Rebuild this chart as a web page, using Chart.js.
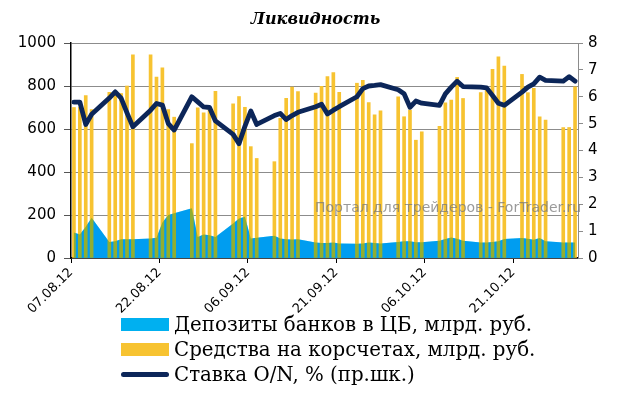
<!DOCTYPE html>
<html lang="ru">
<head>
    <meta charset="UTF-8">
    <title>Ликвидность</title>
    <style>
        html, body {
            margin: 0;
            padding: 0;
            background: #fff;
        }

        .wrap {
            position: relative;
            width: 631px;
            height: 393px;
        }

        #legend {
            position: absolute;
            left: 121px;
            top: 312px;
            font-family: "DejaVu Serif", serif;
            font-size: 19.8px;
            color: #000;
        }

        .row {
            display: flex;
            align-items: center;
            height: 25px;
            white-space: nowrap;
        }

        .swatch {
            width: 48px;
            height: 13px;
            margin-right: 5px;
            flex: none;
        }

        .swatch.line {
            height: 5px;
            border-radius: 3px;
        }
    </style>
</head>
<body>
    <div class="wrap">
        <canvas id="chart" width="631" height="393"></canvas>
        <div id="legend"></div>
    </div>

    <script src="https://cdn.jsdelivr.net/npm/chart.js"></script>
    <script>
        // рабочие дни
        const dates = [
            '07.08.12', '08.08.12', '09.08.12', '10.08.12', '13.08.12', '14.08.12', '15.08.12', '16.08.12', '17.08.12',
            '20.08.12', '21.08.12', '22.08.12', '23.08.12', '24.08.12', '27.08.12', '28.08.12', '29.08.12', '30.08.12', '31.08.12',
            '03.09.12', '04.09.12', '05.09.12', '06.09.12', '07.09.12', '10.09.12', '11.09.12', '12.09.12', '13.09.12', '14.09.12',
            '17.09.12', '18.09.12', '19.09.12', '20.09.12', '21.09.12', '24.09.12', '25.09.12', '26.09.12', '27.09.12', '28.09.12',
            '01.10.12', '02.10.12', '03.10.12', '04.10.12', '05.10.12', '08.10.12', '09.10.12', '10.10.12', '11.10.12', '12.10.12',
            '15.10.12', '16.10.12', '17.10.12', '18.10.12', '19.10.12', '22.10.12', '23.10.12', '24.10.12', '25.10.12', '26.10.12',
            '29.10.12', '30.10.12', '31.10.12'
        ];

        // Средства на корсчетах, млрд. руб.
        const korschet = [
            700, 700, 755, 690, 770, 760, 765, 800, 945,
            945, 842, 885, 690, 655, 532, 698, 675, 690, 775,
            717, 751, 701, 518, 463, 448, 650, 743, 795, 774,
            767, 798, 844, 863, 771, 813, 826, 723, 666, 684,
            750, 657, 688, 548, 587, 613, 722, 735, 840, 742,
            769, 781, 877, 936, 893, 854, 769, 789, 657, 641,
            607, 607, 796
        ];

        // Депозиты банков в ЦБ, млрд. руб.
        const deposits = [
            119, 109, 145, 187, 75, 78, 87, 87, 87,
            91, 94, 165, 200, 208, 231, 98, 109, 106, 98,
            161, 184, 192, 91, 94, 103, 91, 87, 86, 87,
            72, 70, 70, 72, 68, 66, 68, 72, 70, 68,
            75, 78, 78, 73, 73, 80, 88, 95, 90, 80,
            72, 72, 75, 78, 88, 93, 90, 85, 93, 78,
            72, 72, 72
        ];

        // Ставка O/N, %
        const rateON = [
            5.8, 5.8, 4.97, 5.35, 5.95, 6.18, 5.95, 5.4, 4.88,
            5.5, 5.75, 5.69, 5.0, 4.76, 6.0, 5.81, 5.62, 5.6, 5.1,
            4.6, 4.25, 4.9, 5.47, 4.97, 5.3, 5.38, 5.15, 5.3, 5.42,
            5.63, 5.72, 5.36, 5.5, 5.63, 6.0, 6.3, 6.4, 6.42, 6.45,
            6.26, 6.11, 5.61, 5.84, 5.76, 5.68, 6.11, 6.36, 6.58, 6.38,
            6.36, 6.33, 6.05, 5.76, 5.68, 6.17, 6.36, 6.48, 6.73, 6.61,
            6.58, 6.75, 6.58
        ];

        const tickLabels = ['07.08.12', '22.08.12', '06.09.12', '21.09.12', '06.10.12', '21.10.12'];

        const title = 'Ликвидность';
        const watermarkText = 'Портал для трейдеров - ForTrader.ru';

        // дата -> номер дня от начала оси
        function toDay(s) {
            const p = s.split('.');
            const t = Date.UTC(2000 + (+p[2]), +p[1] - 1, +p[0]);
            const p0 = tickLabels[0].split('.');
            const t0 = Date.UTC(2000 + (+p0[2]), +p0[1] - 1, +p0[0]);
            return Math.round((t - t0) / 86400000);
        }

        const xs = dates.map(d => toDay(d) + 0.5);
        const pts = arr => arr.map((v, i) => ({ x: xs[i], y: v }));
        const xMax = toDay(dates[dates.length - 1]) + 1;

        // где столбцы заходят на синюю область — накладываем её ещё раз в режиме multiply
        const overlapTint = {
            id: 'overlapTint',
            afterDatasetDraw(chart, args) {
                if (args.index !== 1) return;
                const area = chart.getDatasetMeta(0).data;
                const y0 = chart.scales.y.getPixelForValue(0);
                const ctx = chart.ctx;
                ctx.save();
                ctx.globalCompositeOperation = 'multiply';
                ctx.fillStyle = 'rgb(150,228,255)';
                ctx.beginPath();
                ctx.moveTo(area[0].x, y0);
                area.forEach(p => ctx.lineTo(p.x, p.y));
                ctx.lineTo(area[area.length - 1].x, y0);
                ctx.closePath();
                ctx.fill();
                ctx.restore();
            }
        };

        const watermark = {
            id: 'watermark',
            afterDatasetsDraw(chart) {
                const ctx = chart.ctx;
                ctx.save();
                ctx.font = '14px "DejaVu Sans"';
                ctx.fillStyle = 'rgba(120,120,120,0.75)';
                ctx.textBaseline = 'middle';
                ctx.textAlign = 'left';
                ctx.fillText(watermarkText, 315, 208);
                ctx.restore();
            }
        };

        const chart = new Chart(document.getElementById('chart'), {
            type: 'bar',
            data: {
                datasets: [
                    {
                        type: 'line',
                        label: 'Депозиты банков в ЦБ, млрд. руб.',
                        data: pts(deposits),
                        backgroundColor: '#00b0f0',
                        borderWidth: 0,
                        pointRadius: 0,
                        fill: 'origin',
                        yAxisID: 'y',
                        order: 3
                    },
                    {
                        type: 'bar',
                        label: 'Средства на корсчетах, млрд. руб.',
                        data: pts(korschet),
                        backgroundColor: '#f7c331',
                        barThickness: 3,
                        yAxisID: 'y',
                        order: 2
                    },
                    {
                        type: 'line',
                        label: 'Ставка O/N, % (пр.шк.)',
                        data: pts(rateON),
                        borderColor: '#0c2659',
                        backgroundColor: '#0c2659',
                        borderWidth: 4.8,
                        borderJoinStyle: 'round',
                        borderCapStyle: 'round',
                        pointRadius: 0,
                        tension: 0,
                        yAxisID: 'y1',
                        order: 1
                    }
                ]
            },
            options: {
                responsive: false,
                animation: false,
                layout: { padding: { left: 0, right: 0, top: 0, bottom: 75 } },
                plugins: {
                    legend: { display: false },
                    tooltip: { enabled: false },
                    title: {
                        display: true,
                        text: title,
                        color: '#000',
                        font: { family: 'DejaVu Serif', size: 16, weight: 'bold', style: 'italic' },
                        padding: { top: 10, bottom: 13.8 }
                    }
                },
                scales: {
                    x: {
                        type: 'linear',
                        min: 0,
                        max: xMax,
                        offset: false,
                        afterFit: s => { s.height = 60; },
                        border: { color: '#000', width: 1.5 },
                        grid: { offset: false, drawOnChartArea: false, drawTicks: true, tickLength: 5, color: '#000' },
                        ticks: {
                            stepSize: 15,
                            includeBounds: false,
                            autoSkip: false,
                            minRotation: 45,
                            maxRotation: 45,
                            padding: 2,
                            color: '#000',
                            font: { family: 'DejaVu Sans', size: 13 },
                            callback: v => tickLabels[Math.round(v / 15)]
                        }
                    },
                    y: {
                        position: 'left',
                        min: 0,
                        max: 1000,
                        afterFit: s => { s.width = 71; },
                        border: { color: '#000', width: 1.5 },
                        grid: { color: '#8c8c8c', lineWidth: 1, tickLength: 7, tickColor: '#555' },
                        ticks: {
                            stepSize: 200,
                            padding: 8,
                            color: '#000',
                            font: { family: 'DejaVu Sans', size: 15 },
                            callback: v => String(v)
                        }
                    },
                    y1: {
                        position: 'right',
                        min: 0,
                        max: 8,
                        afterFit: s => { s.width = 53; },
                        border: { color: '#8c8c8c', width: 1 },
                        grid: { drawOnChartArea: false, tickLength: 5, color: '#8c8c8c' },
                        ticks: {
                            stepSize: 1,
                            padding: 5,
                            color: '#000',
                            font: { family: 'DejaVu Sans', size: 15 }
                        }
                    }
                }
            },
            plugins: [overlapTint, watermark]
        });

        // легенда — столбиком, как в оригинале
        const legend = document.getElementById('legend');
        chart.data.datasets.forEach(ds => {
            const row = document.createElement('div');
            row.className = 'row';
            const sw = document.createElement('div');
            sw.className = 'swatch' + (ds.type === 'line' && !ds.fill ? ' line' : '');
            sw.style.background = ds.backgroundColor;
            const txt = document.createElement('span');
            txt.textContent = ds.label;
            row.appendChild(sw);
            row.appendChild(txt);
            legend.appendChild(row);
        });
    </script>
</body>
</html>
